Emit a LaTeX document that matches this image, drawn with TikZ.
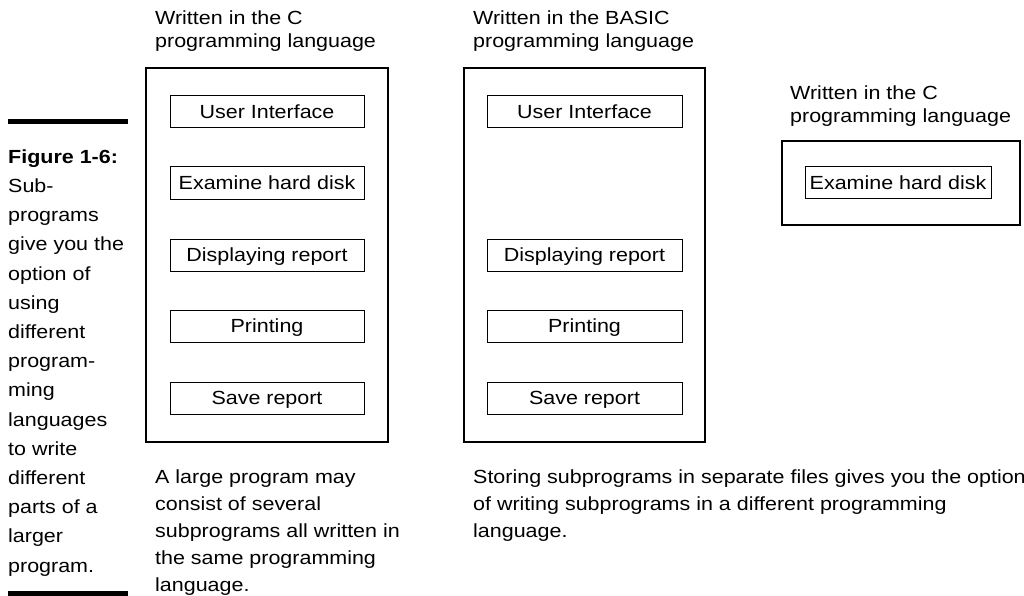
\documentclass[tikz,border=0pt]{standalone}
\usepackage{fontspec}
\setmainfont[FakeStretch=1.13]{Liberation Sans}
\begin{document}
\begin{tikzpicture}[x=1pt,y=-1pt,
  txt/.style={font=\fontsize{19}{23}\selectfont},
  lbl/.style={txt, anchor=base west, align=left, inner sep=0pt},
  captxt/.style={lbl, font=\fontsize{19}{27}\selectfont},
  sidetxt/.style={lbl, font=\fontsize{19}{29.2}\selectfont},
  outerbox/.style={draw, line width=2pt},
  modbox/.style={txt, draw, line width=1pt, minimum width=194pt, minimum height=32pt, inner sep=0pt, text height=13.6pt, text depth=0pt},
  thickbar/.style={line width=5pt}
]
\useasboundingbox (0,0) rectangle (1024,596);

% sidebar (base anchor = baseline of last line)
\draw[thickbar] (8,121.5) -- (128,121.5);
\draw[thickbar] (8,593.5) -- (128,593.5);
\node[sidetxt] (sidecap) at (8,572) {\textbf{Figure 1-6:}\\Sub-\\programs\\give you the\\option of\\using\\different\\program-\\ming\\languages\\to write\\different\\parts of a\\larger\\program.};

% box 1
\node[lbl] (l1) at (155,48) {Written in the C\\programming language};
\draw[outerbox] (146,68) rectangle (388,442);
\node[modbox] (a1) at (267,112) {User Interface};
\node[modbox] (a2) at (267,183) {Examine hard disk};
\node[modbox] (a3) at (267,255) {Displaying report};
\node[modbox] (a4) at (267,326) {Printing};
\node[modbox] (a5) at (267,398) {Save report};
\node[captxt] (c1) at (155,591) {A large program may\\consist of several\\subprograms all written in\\the same programming\\language.};

% box 2
\node[lbl] (l2) at (473,48) {Written in the BASIC\\programming language};
\draw[outerbox] (464,68) rectangle (705,442);
\node[modbox, minimum width=195pt] (b1) at (584.5,112) {User Interface};
\node[modbox, minimum width=195pt] (b3) at (584.5,255) {Displaying report};
\node[modbox, minimum width=195pt] (b4) at (584.5,326) {Printing};
\node[modbox, minimum width=195pt] (b5) at (584.5,398) {Save report};
\node[captxt] (c2) at (473,537) {Storing subprograms in separate files gives you the option\\of writing subprograms in a different programming\\language.};

% box 3
\node[lbl] (l3) at (790,123) {Written in the C\\programming language};
\draw[outerbox] (782,141) rectangle (1020,225);
\node[modbox, minimum width=186pt, minimum height=31pt] (d2) at (898,182.5) {Examine hard disk};
\end{tikzpicture}
\end{document}
